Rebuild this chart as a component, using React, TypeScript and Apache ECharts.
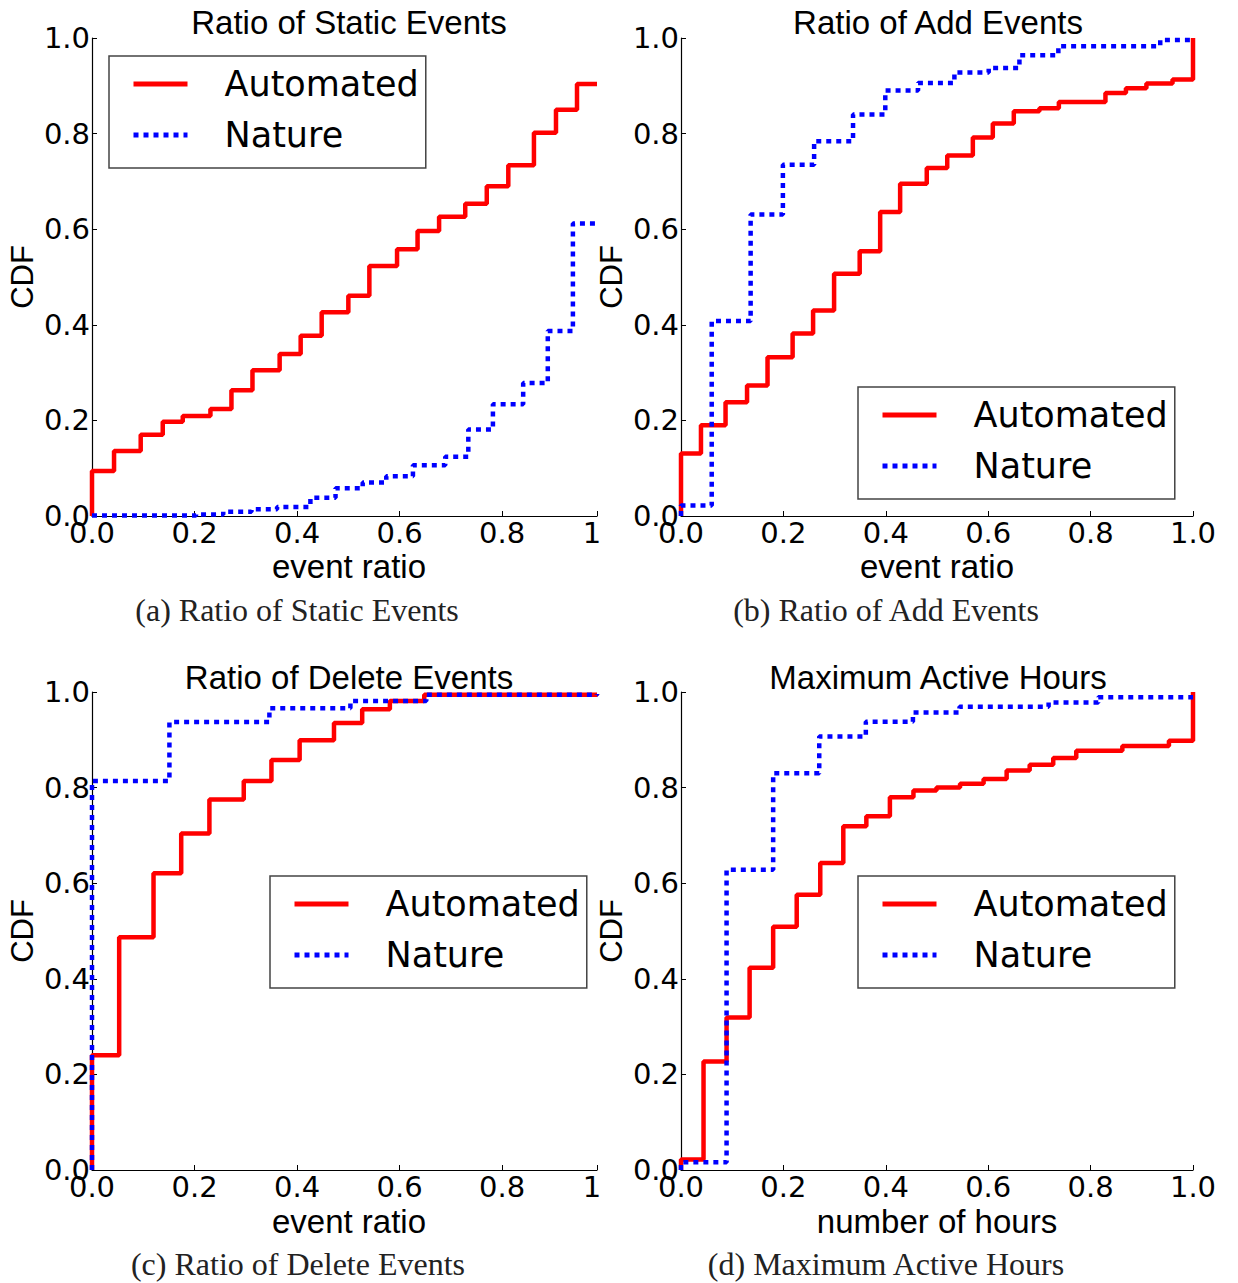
import React, { useEffect, useRef } from 'react';
import * as echarts from 'echarts';

// ---------- Data ----------
const seriesNames = ['Automated', 'Nature'];
const yTicks = [0, 0.2, 0.4, 0.6, 0.8, 1.0];

// (a) Ratio of Static Events
const staticAutoX = [0, 0, 0.043, 0.095, 0.138, 0.177, 0.231, 0.272, 0.313, 0.366, 0.407, 0.448, 0.5, 0.541, 0.595, 0.635, 0.677, 0.728, 0.77, 0.812, 0.862, 0.905, 0.946, 0.985];
const staticAutoY = [0, 0.094, 0.136, 0.17, 0.197, 0.209, 0.224, 0.263, 0.305, 0.339, 0.377, 0.426, 0.461, 0.523, 0.558, 0.596, 0.626, 0.653, 0.69, 0.734, 0.802, 0.85, 0.904, 0.904];
const staticNatX = [0, 0.203, 0.256, 0.311, 0.361, 0.426, 0.475, 0.528, 0.574, 0.626, 0.689, 0.734, 0.782, 0.841, 0.889, 0.938, 0.985];
const staticNatY = [0.001, 0.003, 0.009, 0.014, 0.019, 0.038, 0.058, 0.07, 0.083, 0.106, 0.124, 0.181, 0.234, 0.278, 0.387, 0.612, 0.612];

// (b) Ratio of Add Events
const addAutoX = [0, 0, 0.039, 0.087, 0.129, 0.169, 0.218, 0.258, 0.299, 0.349, 0.389, 0.428, 0.48, 0.52, 0.57, 0.609, 0.65, 0.7, 0.738, 0.829, 0.869, 0.909, 0.96, 1.0];
const addAutoY = [0, 0.131, 0.19, 0.238, 0.273, 0.332, 0.382, 0.43, 0.507, 0.554, 0.636, 0.695, 0.728, 0.754, 0.792, 0.821, 0.847, 0.853, 0.866, 0.885, 0.895, 0.905, 0.913, 1.0];
const addNatX = [0, 0, 0.06, 0.136, 0.199, 0.26, 0.336, 0.399, 0.463, 0.534, 0.601, 0.661, 0.737, 0.936, 1.0];
const addNatY = [0, 0.022, 0.408, 0.631, 0.735, 0.784, 0.84, 0.89, 0.906, 0.928, 0.937, 0.964, 0.983, 0.996, 0.996];

// (c) Ratio of Delete Events
const delAutoX = [0, 0, 0.053, 0.12, 0.174, 0.229, 0.296, 0.35, 0.405, 0.472, 0.527, 0.581, 0.648, 0.985];
const delAutoY = [0, 0.24, 0.487, 0.621, 0.704, 0.775, 0.814, 0.858, 0.899, 0.935, 0.964, 0.981, 0.994, 0.996];
const delNatX = [0, 0, 0.151, 0.346, 0.504, 0.652, 0.985];
const delNatY = [0, 0.814, 0.937, 0.966, 0.981, 0.994, 0.996];

// (d) Maximum Active Hours
const hoursAutoX = [0, 0, 0.044, 0.089, 0.134, 0.18, 0.226, 0.272, 0.317, 0.362, 0.408, 0.454, 0.499, 0.545, 0.591, 0.636, 0.681, 0.727, 0.772, 0.862, 0.953, 1.0];
const hoursAutoY = [0, 0.022, 0.227, 0.319, 0.423, 0.509, 0.576, 0.642, 0.719, 0.74, 0.78, 0.794, 0.8, 0.808, 0.818, 0.836, 0.848, 0.862, 0.877, 0.887, 0.898, 1.0];
const hoursNatX = [0, 0, 0.089, 0.18, 0.27, 0.361, 0.453, 0.544, 0.718, 0.815, 1.0];
const hoursNatY = [0, 0.016, 0.628, 0.83, 0.907, 0.938, 0.957, 0.969, 0.978, 0.989, 0.99];

const titles = ['Ratio of Static Events', 'Ratio of Add Events', 'Ratio of Delete Events', 'Maximum Active Hours'];
const xNames = ['event ratio', 'event ratio', 'event ratio', 'number of hours'];
const captions = ['(a) Ratio of Static Events', '(b) Ratio of Add Events', '(c) Ratio of Delete Events', '(d) Maximum Active Hours'];
const xMaxes = [0.985, 1.0, 0.985, 1.0];

const autoData = [[staticAutoX, staticAutoY], [addAutoX, addAutoY], [delAutoX, delAutoY], [hoursAutoX, hoursAutoY]];
const natData = [[staticNatX, staticNatY], [addNatX, addNatY], [delNatX, delNatY], [hoursNatX, hoursNatY]];

// ---------- Layout ----------
const grids = [
  { left: 92, top: 38, width: 505, height: 478 },
  { left: 681, top: 38, width: 512, height: 478 },
  { left: 92, top: 692, width: 505, height: 478 },
  { left: 681, top: 692, width: 512, height: 478 },
];
const legendPos = [
  { left: 109, top: 56 },
  { left: 858, top: 387 },
  { left: 270, top: 876 },
  { left: 858, top: 876 },
];
const titlePos = [[349, 22], [938, 22], [349, 677], [938, 677]];
const yNamePos = [[22, 277], [611, 277], [22, 931], [611, 931]];
const xNamePos = [[349, 566], [937, 566], [349, 1221], [937, 1221]];
const captionPos = [[297, 610], [886, 610], [298, 1264], [886, 1264]];

const SANS = 'Liberation Sans, Arial, sans-serif';
const TICKFONT = 'DejaVu Sans, sans-serif';
const SERIF = 'Liberation Serif, Times New Roman, serif';

const zip = (xs: number[], ys: number[]) => xs.map((x, i) => [x, ys[i]]);

function textEl(text: string, x: number, y: number, font: string, color = '#000', rotation = 0) {
  return {
    type: 'text',
    x,
    y,
    rotation,
    z: 10,
    style: {
      text,
      font,
      fill: color,
      align: 'center',
      verticalAlign: 'middle',
      textAlign: 'center',
      textVerticalAlign: 'middle',
    },
  };
}

export default function App() {
  const ref = useRef<HTMLDivElement>(null);

  useEffect(() => {
    if (!ref.current) return;
    const chart = echarts.init(ref.current, undefined, { renderer: 'svg' });

    const axisCommon = {
      axisLine: { show: true, lineStyle: { color: '#000', width: 1.2 } },
      axisTick: { show: true, inside: true, length: 5, lineStyle: { color: '#000', width: 1 } },
      splitLine: { show: false },
    };

    const xAxis = grids.map((_, i) => ({
      type: 'value',
      gridIndex: i,
      min: 0,
      max: xMaxes[i],
      interval: 0.2,
      ...axisCommon,
      axisLabel: {
        fontFamily: TICKFONT,
        fontSize: 29,
        color: '#000',
        margin: 2,
        formatter: (v: number) => {
          const r = Math.round(v * 10) / 10;
          if (Math.abs(v - r) > 1e-6) return '';
          return r.toFixed(1);
        },
      },
    }));

    const yAxis = grids.map((_, i) => ({
      type: 'value',
      gridIndex: i,
      min: 0,
      max: 1,
      interval: 0.2,
      ...axisCommon,
      axisLabel: {
        fontFamily: TICKFONT,
        fontSize: 29,
        color: '#000',
        margin: 2,
        formatter: (v: number) => {
          const t = yTicks.find((k) => Math.abs(k - v) < 1e-6);
          return t === undefined ? '' : t.toFixed(1);
        },
      },
    }));

    const series: any[] = [];
    grids.forEach((_, i) => {
      series.push({
        name: seriesNames[0],
        type: 'line',
        xAxisIndex: i,
        yAxisIndex: i,
        step: 'end',
        symbol: 'none',
        data: zip(autoData[i][0], autoData[i][1]),
        lineStyle: { color: '#ff0000', width: 4.5, type: 'solid' },
        itemStyle: { color: '#ff0000' },
        z: 2,
      });
      series.push({
        name: seriesNames[1],
        type: 'line',
        xAxisIndex: i,
        yAxisIndex: i,
        step: 'end',
        symbol: 'none',
        data: zip(natData[i][0], natData[i][1]),
        lineStyle: { color: '#0000ff', width: 4.5, type: [5, 5], cap: 'butt' },
        itemStyle: { color: '#0000ff' },
        z: 3,
      });
    });

    const legend = legendPos.map((p) => ({
      left: p.left,
      top: p.top,
      orient: 'vertical',
      data: seriesNames,
      selectedMode: false,
      itemWidth: 54,
      itemHeight: 20,
      itemGap: 15,
      padding: [10, 7, 15, 22],
      borderColor: '#444',
      borderWidth: 1.5,
      borderRadius: 0,
      backgroundColor: '#fff',
      itemStyle: { opacity: 0, borderWidth: 0 },
      lineStyle: { width: 5 },
      textStyle: {
        fontFamily: TICKFONT,
        fontSize: 35,
        lineHeight: 36,
        color: '#000',
        padding: [0, 0, 0, 32],
      },
      z: 5,
    }));

    const graphics: any[] = [];
    titles.forEach((t, i) => graphics.push(textEl(t, titlePos[i][0], titlePos[i][1], `33px ${SANS}`)));
    xNames.forEach((t, i) => graphics.push(textEl(t, xNamePos[i][0], xNamePos[i][1], `33px ${SANS}`)));
    yNamePos.forEach((p) => graphics.push(textEl('CDF', p[0], p[1], `31px ${SANS}`, '#000', Math.PI / 2)));
    captions.forEach((t, i) => graphics.push(textEl(t, captionPos[i][0], captionPos[i][1], `32px ${SERIF}`, '#222')));
    // clipped "1.0" end labels of panels (a) and (c)
    graphics.push(textEl('1', 592, 533, `29px ${TICKFONT}`));
    graphics.push(textEl('1', 592, 1187, `29px ${TICKFONT}`));

    chart.setOption({
      animation: false,
      backgroundColor: '#fff',
      grid: grids.map((g) => ({ ...g, containLabel: false })),
      xAxis,
      yAxis,
      legend,
      series,
      graphic: { elements: graphics },
    });

    return () => chart.dispose();
  }, []);

  return (
    <div
      ref={ref}
      style={{ position: 'absolute', left: 0, top: 0, width: 1238, height: 1283, background: '#fff' }}
    />
  );
}
